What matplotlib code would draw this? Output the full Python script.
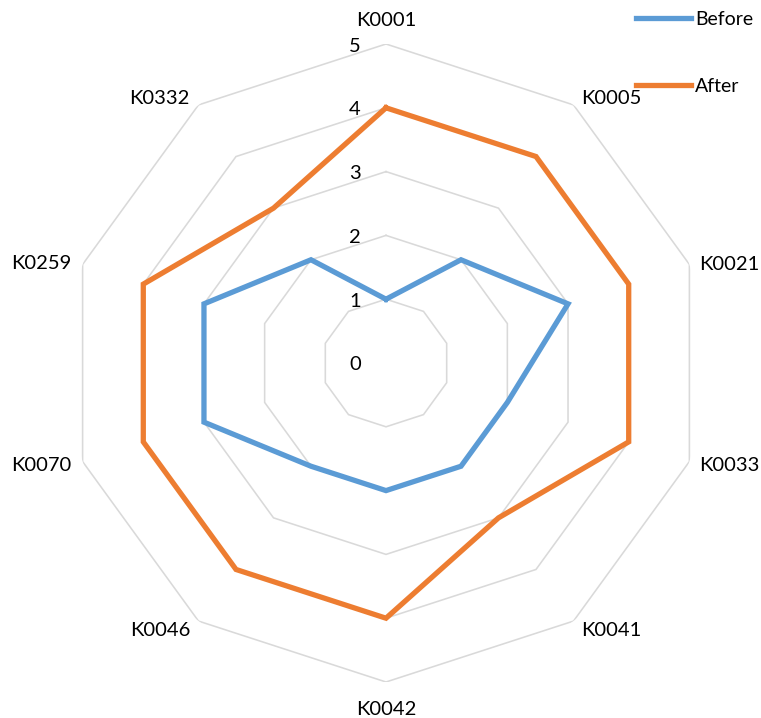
import numpy as np
import matplotlib
matplotlib.use("Agg")
import matplotlib.pyplot as plt

plt.rcParams['font.family'] = ['Lato', 'DejaVu Sans']

categories = ["K0001", "K0005", "K0021", "K0033", "K0041",
              "K0042", "K0046", "K0070", "K0259", "K0332"]
before = [1, 2, 3, 2, 2, 2, 2, 3, 3, 2]
after = [4, 4, 4, 4, 3, 4, 4, 4, 4, 3]
levels = [0, 1, 2, 3, 4, 5]

BLUE = "#5B9BD5"
ORANGE = "#ED7D31"
GRID = "#D9D9D9"
FS = 14.5
PX = 0.72  # points per pixel at 100 dpi

n = len(categories)
theta = np.arange(n) * 2 * np.pi / n
theta_closed = np.append(theta, theta[0])

fig = plt.figure(figsize=(7.61, 7.18), dpi=100)
ax = fig.add_axes([67 / 761, 36 / 718, 638 / 761, 638 / 718], projection="polar")
ax.set_theta_zero_location("N")
ax.set_theta_direction(-1)
ax.set_ylim(0, 5)
ax.grid(False)
ax.set_xticks([])
ax.set_yticks([])
ax.spines["polar"].set_visible(False)
ax.patch.set_alpha(0)

# decagonal gridlines
for lv in levels[1:]:
    ax.plot(theta_closed, [lv] * (n + 1), color=GRID, lw=1.15, zorder=1,
            solid_joinstyle="miter")


def closed(vals):
    return list(vals) + [vals[0]]


ax.plot(theta_closed, closed(before), color=BLUE, lw=3.8, zorder=3,
        solid_joinstyle="miter", label="Before")
ax.plot(theta_closed, closed(after), color=ORANGE, lw=3.8, zorder=3,
        solid_joinstyle="miter", label="After")

# radial value labels along the top axis
for lv in levels:
    ax.annotate(str(lv), xy=(0, lv), xytext=(-25 * PX, -2 * PX),
                textcoords="offset points", ha="right", va="center",
                fontsize=FS, color="#000000")

# category labels around the outside: (ha, dx px, dy px to baseline)
label_place = {
    0: ("center", 0, 18.5),
    36: ("left", 8, 1),
    72: ("left", 10, -6),
    108: ("left", 10, -9),
    144: ("left", 7.5, -15),
    180: ("center", 0, -33),
    216: ("right", -8, -15),
    252: ("right", -11, -9),
    288: ("right", -11, -5),
    324: ("right", -9, 1),
}
for t, name in zip(theta, categories):
    deg = int(round(np.degrees(t))) % 360
    ha, dx, dy = label_place[deg]
    ax.annotate(name, xy=(t, 5), xytext=(dx * PX, dy * PX),
                textcoords="offset points", ha=ha, va="baseline",
                fontsize=FS, color="#000000", annotation_clip=False)

fig.legend(loc="upper left", bbox_to_anchor=(636 / 761, 1 - 11 / 718),
           frameon=False, fontsize=14, handlelength=2.85, handletextpad=0.2,
           labelspacing=2.55, borderpad=0, borderaxespad=0)

fig.savefig("out.png", dpi=100)
